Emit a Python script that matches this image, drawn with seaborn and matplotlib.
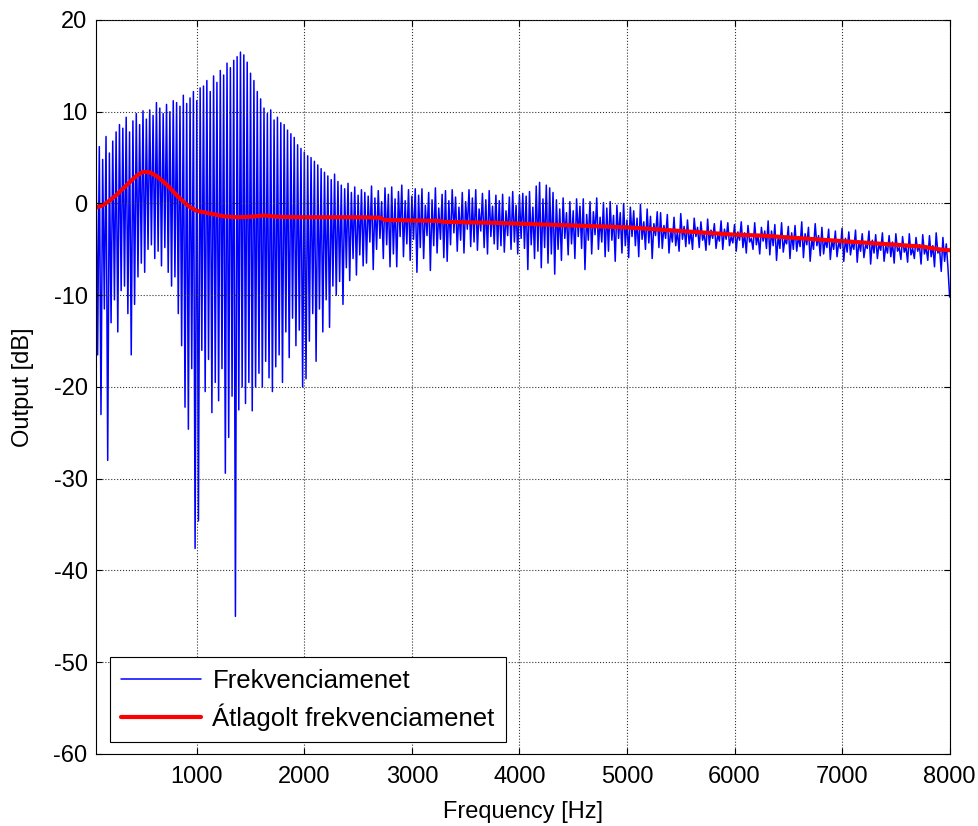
import numpy as np
import pandas as pd
import matplotlib
matplotlib.use("Agg")
import matplotlib.pyplot as plt
import seaborn as sns

# ---------------- data ----------------
freq_start = 62.5      # Hz, first sample
freq_step = 15.625     # Hz, sample spacing

output_db = [
    7.0, -16.5, 6.2, -23.0, 4.8, -11.5, 7.3, -28.0, 5.5, -13.0, 6.8, -10.5, 7.8, -14.0, 8.6, -9.5,
    8.2, -9.0, 9.4, -12.0, 7.8, -16.5, 9.0, -11.0, 9.8, -8.0, 8.6, -6.5, 10.1, -7.5, 9.2, -5.0,
    10.2, -4.5, 9.6, -6.0, 11.0, -5.2, 10.4, -6.8, 9.8, -4.8, 10.8, -7.5, 10.0, -9.0, 11.2, -8.0,
    11.0, -12.0, 10.6, -15.5, 11.8, -22.2, 10.9, -24.6, 11.5, -18.0, 12.2, -37.6, 11.2, -34.6, 12.6, -16.0,
    12.8, -20.5, 13.4, -17.0, 12.2, -22.8, 13.9, -19.5, 13.2, -21.5, 14.5, -18.0, 14.0, -29.4, 15.3, -25.5,
    14.8, -21.0, 15.6, -45.0, 16.0, -22.5, 16.5, -20.0, 16.2, -21.8, 15.4, -19.5, 14.2, -22.6, 13.4, -20.0,
    12.2, -18.5, 11.4, -20.0, 10.4, -17.2, 9.8, -19.0, 10.2, -20.5, 9.1, -17.8, 9.4, -16.5, 8.8, -19.5,
    8.6, -14.0, 8.0, -16.8, 7.6, -12.5, 7.2, -15.5, 6.4, -13.8, 6.0, -20.0, 5.6, -19.1, 5.2, -15.0,
    5.0, -12.0, 4.6, -17.2, 4.2, -11.5, 3.8, -14.0, 3.4, -10.5, 3.0, -13.5, 2.6, -9.0, 3.2, -10.0,
    2.4, -8.5, 2.0, -11.0, 1.6, -7.0, 2.2, -8.4, 1.2, -6.0, 1.8, -7.8, 0.9, -5.6, 1.5, -6.8,
    1.2, -6.5, 0.8, -4.2, 1.9, -7.2, 0.6, -5.0, 1.4, -3.8, 0.2, -6.0, 1.7, -4.5, 1.0, -6.9,
    1.8, -5.5, 0.5, -6.9, 1.3, -3.6, 2.0, -5.8, 0.3, -4.4, 1.5, -6.2, 0.8, -3.9, 1.6, -7.5,
    0.9, -4.8, 1.6, -6.0, -0.2, -3.5, 1.2, -7.3, 0.4, -4.6, 1.7, -5.4, -0.5, -3.9, 1.0, -5.9,
    1.4, -6.3, 0.3, -4.5, 1.5, -3.2, 0.7, -5.2, -0.4, -4.0, 1.2, -5.4, 0.2, -2.8, 1.5, -4.7,
    0.6, -4.2, 1.5, -5.1, -0.6, -3.0, 1.1, -4.8, 0.4, -5.5, 1.4, -3.6, -0.3, -4.4, 0.9, -5.0,
    0.3, -4.6, 1.0, -5.3, -0.8, -3.5, 0.7, -5.0, 1.3, -4.2, -0.2, -5.5, 0.9, -3.8, 1.1, -4.9,
    0.8, -7.2, 1.3, -4.5, -0.4, -6.0, 1.9, -5.2, 2.3, -7.0, 0.5, -4.8, 2.0, -6.5, 1.7, -5.5,
    1.2, -7.7, 0.4, -5.0, -0.6, -6.2, 0.6, -3.8, -1.0, -5.6, 0.2, -4.4, -0.8, -6.0, 0.5, -3.6,
    -0.3, -4.9, 0.5, -7.2, -1.2, -4.0, 0.2, -5.5, -0.9, -3.4, 0.6, -5.0, -1.5, -4.2, 0.1, -5.8,
    -0.5, -5.2, 0.2, -4.0, -1.3, -6.3, -0.2, -3.8, -1.0, -5.4, 0.0, -4.6, -1.8, -5.9, -0.4, -3.6,
    -0.8, -4.6, -1.6, -5.8, -0.1, -3.9, -2.0, -5.0, -0.6, -4.3, -1.4, -6.0, -2.2, -3.5, -0.9, -4.8,
    -1.0, -4.9, -2.4, -3.8, -1.2, -5.4, -2.8, -4.2, -1.5, -4.6, -3.0, -5.2, -1.1, -3.9, -2.5, -4.7,
    -1.8, -4.4, -3.0, -5.0, -1.6, -3.6, -2.6, -4.8, -2.0, -4.0, -3.3, -5.1, -1.7, -4.5, -2.9, -3.8,
    -2.2, -4.9, -3.4, -4.1, -1.9, -5.0, -2.8, -3.9, -2.1, -4.6, -3.6, -4.3, -2.3, -5.2, -3.1, -4.0,
    -2.0, -4.8, -3.2, -5.4, -2.4, -4.2, -3.8, -5.0, -2.1, -4.5, -3.4, -5.5, -2.6, -4.1, -3.0, -4.9,
    -1.9, -5.6, -3.0, -4.6, -2.3, -6.2, -3.5, -4.9, -2.1, -5.3, -3.9, -4.4, -2.5, -6.0, -3.2, -5.0,
    -2.4, -5.2, -3.6, -4.7, -2.0, -5.9, -3.3, -4.5, -2.6, -6.3, -3.8, -5.0, -2.2, -4.6, -3.5, -5.7,
    -2.6, -5.5, -3.9, -4.8, -2.8, -6.1, -4.0, -5.0, -3.0, -5.8, -4.2, -4.9, -2.7, -6.3, -3.8, -5.3,
    -3.1, -5.6, -4.3, -5.0, -2.9, -6.4, -4.1, -5.2, -3.3, -5.9, -4.5, -4.9, -3.0, -6.6, -4.0, -5.4,
    -3.4, -6.0, -4.4, -5.1, -3.2, -6.3, -4.6, -5.4, -3.5, -5.8, -4.2, -6.5, -3.3, -5.2, -4.8, -6.1,
    -3.6, -5.3, -4.7, -6.4, -3.3, -5.6, -4.9, -6.0, -3.7, -5.2, -4.5, -6.6, -3.4, -5.5, -4.8, -6.2,
    -3.5, -5.8, -4.6, -6.9, -3.2, -5.4, -4.9, -7.4, -3.7, -6.3, -4.4, -7.0, -10.2,
]

avg_freq = [62.5, 125, 187.5, 250, 312.5, 375, 437.5, 500, 562.5, 625, 687.5, 750,
            812.5, 875, 937.5, 1000, 1125, 1250, 1375, 1500, 1625, 1750, 2000, 2250,
            2500, 2700, 2750, 3000, 3250, 3300, 3500, 3750, 4000, 4250, 4500, 4750,
            5000, 5250, 5500, 5750, 6000, 6250, 6500, 6750, 7000, 7250, 7500, 7750,
            7900, 8000]
avg_db = [-0.45, -0.2, 0.3, 0.9, 1.6, 2.3, 3.0, 3.45, 3.4, 3.0, 2.4, 1.7,
          0.9, 0.2, -0.4, -0.8, -1.1, -1.4, -1.5, -1.45, -1.3, -1.45, -1.5, -1.5,
          -1.5, -1.55, -1.8, -1.85, -1.9, -2.0, -2.05, -2.1, -2.2, -2.3, -2.4, -2.5,
          -2.6, -2.8, -3.0, -3.2, -3.4, -3.5, -3.7, -3.9, -4.1, -4.3, -4.5, -4.7,
          -5.0, -5.1]

x_ticks = [1000, 2000, 3000, 4000, 5000, 6000, 7000, 8000]
y_ticks = [-60, -50, -40, -30, -20, -10, 0, 10, 20]

label_raw = "Frekvenciamenet"
label_avg = "Átlagolt frekvenciamenet"
x_label = "Frequency [Hz]"
y_label = "Output [dB]"

# ---------------- figure ----------------
sns.set_theme(style="white")
plt.rcParams["font.family"] = ["Liberation Sans", "DejaVu Sans"]

freq = freq_start + freq_step * np.arange(len(output_db))
df_raw = pd.DataFrame({"f": freq, "db": output_db})
df_avg = pd.DataFrame({"f": avg_freq, "db": avg_db})

fig = plt.figure(figsize=(9.79, 8.26), dpi=100)
ax = fig.add_axes([0.098, 0.0872, 0.872, 0.8886])

sns.lineplot(data=df_raw, x="f", y="db", ax=ax, color="#0000ff", linewidth=1.1,
             estimator=None, sort=False, label=label_raw)
sns.lineplot(data=df_avg, x="f", y="db", ax=ax, color="#ff0000", linewidth=3.0,
             estimator=None, sort=False, label=label_avg)

ax.set_xlim(freq_start, 8000)
ax.set_ylim(-60, 20)
ax.set_xticks(x_ticks)
ax.set_yticks(y_ticks)
ax.set_xticklabels([str(t) for t in x_ticks])
ax.set_yticklabels([str(t) for t in y_ticks])

ax.grid(True, linestyle=":", color="0.2", linewidth=0.8)
ax.set_axisbelow(False)
for s in ax.spines.values():
    s.set_color("black")
    s.set_linewidth(0.8)
    s.set_visible(True)

ax.tick_params(axis="both", which="both", direction="in", length=4, width=0.8,
               top=True, right=True, bottom=True, left=True,
               labelsize=17, colors="black")
ax.tick_params(axis="x", pad=9)
ax.tick_params(axis="y", pad=6)

ax.set_xlabel(x_label, fontsize=17, color="black", labelpad=9)
ax.set_ylabel(y_label, fontsize=17, color="black", labelpad=14)

leg = ax.legend(loc="lower left", bbox_to_anchor=(0.016, 0.016), frameon=True,
                fancybox=False, edgecolor="black", framealpha=1, handlelength=3.1,
                fontsize=18.5, borderpad=0.45, labelspacing=0.4, handletextpad=0.45,
                borderaxespad=0.0, labelcolor="black")
leg.get_frame().set_linewidth(0.8)

fig.savefig("out.png", dpi=100, facecolor="white")
